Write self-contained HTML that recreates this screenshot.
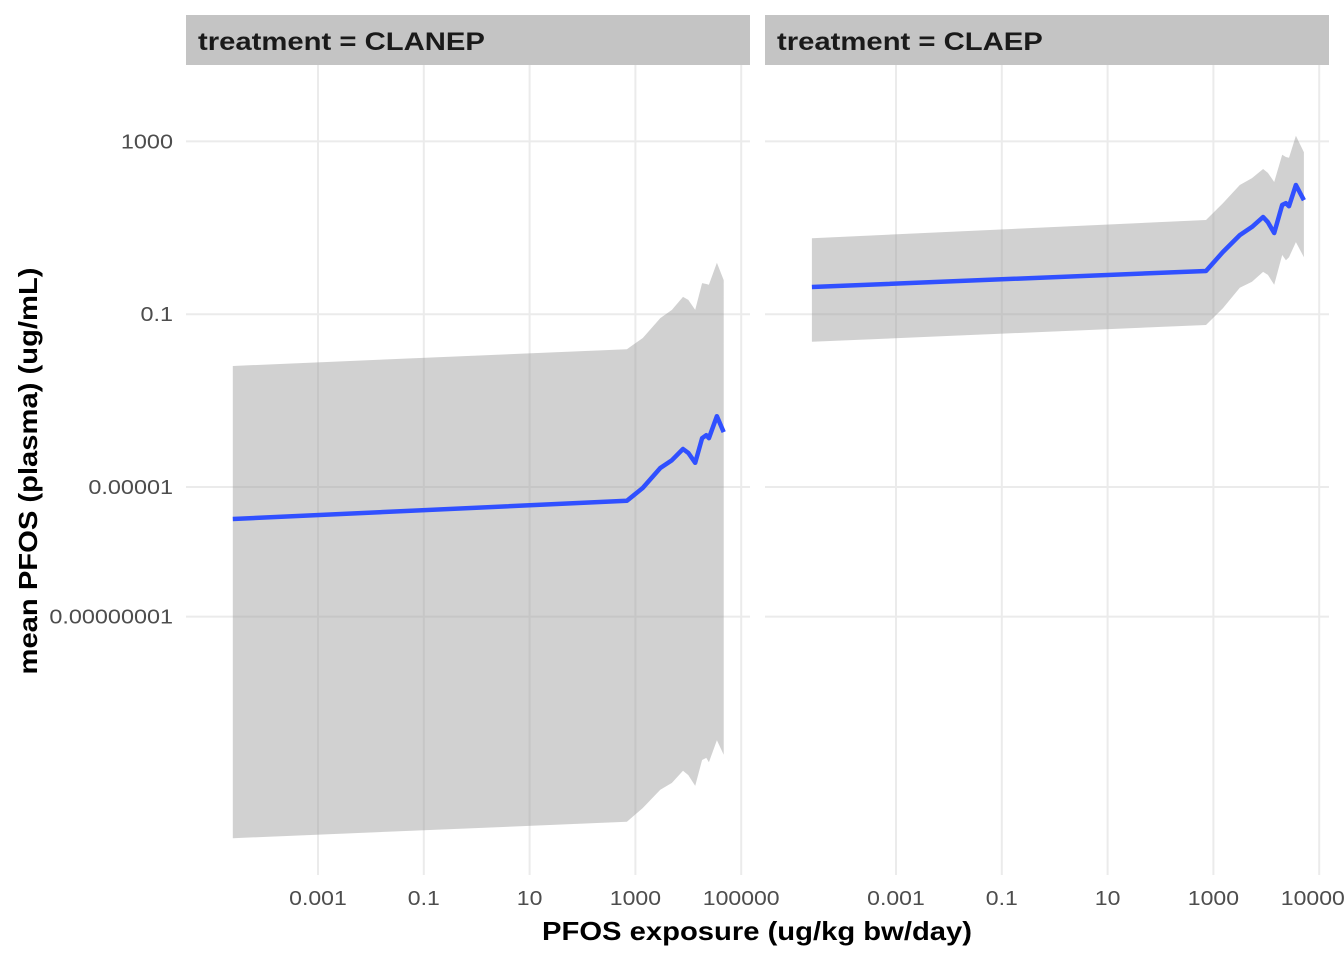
<!DOCTYPE html>
<html><head><meta charset="utf-8"><style>
body{margin:0;background:#fff;overflow:hidden;}
svg text{font-family:"Liberation Sans",Arial,sans-serif;}
</style></head><body>
<svg id="chart" width="1344" height="960" xmlns="http://www.w3.org/2000/svg">
<g id="root"></g>
</svg>
<script>
// Data (log10 values)
const panelNames = ["CLANEP", "CLAEP"];
const xTickExp = [-3, -1, 1, 3, 5];
const xTickLabels = ["0.001", "0.1", "10", "1000", "100000"];
const yTickExp = [3, -1, -5, -8];
const yTickLabels = ["1000", "0.1", "0.00001", "0.00000001"];
const leftLogX = [-4.61, 2.84, 3.14, 3.47, 3.69, 3.90, 4.00, 4.13, 4.26, 4.34, 4.39, 4.54, 4.67];
const leftLogY = [-5.74, -5.32, -5.02, -4.56, -4.38, -4.12, -4.21, -4.44, -3.87, -3.80, -3.87, -3.36, -3.73];
const leftUpper = [-2.20, -1.81, -1.55, -1.09, -0.90, -0.60, -0.67, -0.90, -0.28, -0.30, -0.32, 0.19, -0.21];
const leftLower = [-13.13, -12.75, -12.43, -12.01, -11.85, -11.57, -11.67, -11.92, -11.32, -11.27, -11.37, -10.86, -11.20];
const rightLogX = [-4.59, 2.86, 3.18, 3.50, 3.73, 3.94, 4.03, 4.15, 4.30, 4.37, 4.43, 4.56, 4.71];
const rightLogY = [-0.37, 0.00, 0.44, 0.83, 1.02, 1.25, 1.13, 0.88, 1.53, 1.57, 1.50, 1.99, 1.64];
const rightUpper = [0.76, 1.18, 1.57, 1.99, 2.15, 2.36, 2.27, 2.06, 2.69, 2.64, 2.62, 3.13, 2.75];
const rightLower = [-1.64, -1.25, -0.86, -0.39, -0.25, -0.02, -0.09, -0.32, 0.37, 0.25, 0.32, 0.67, 0.32];

const NS = "http://www.w3.org/2000/svg";
const root = document.getElementById("root");
function mk(tag, attrs, parent) {
  const e = document.createElementNS(NS, tag);
  for (const k in attrs) e.setAttribute(k, attrs[k]);
  (parent || root).appendChild(e);
  return e;
}
function widen(t, f) {
  const w = t.getComputedTextLength();
  t.setAttribute("textLength", (w * f).toFixed(1));
  t.setAttribute("lengthAdjust", "spacingAndGlyphs");
}
const panels = [
  {x0: 186, x1: 750, off: 0, lx: leftLogX, ly: leftLogY, up: leftUpper, lo: leftLower},
  {x0: 765, x1: 1329, off: 578, lx: rightLogX, ly: rightLogY, up: rightUpper, lo: rightLower}
];
const yTop = 65, yBot = 875;
function yScale(v) { return 487 - (v + 5) * 43.2; }

panels.forEach((p, i) => {
  const xScale = v => 318 + p.off + (v + 3) * 52.9;
  const g = mk("g", {});
  
  
  yTickExp.forEach(v => {
    const l = mk("line", {x1: p.x0, x2: p.x1, y1: yScale(v), y2: yScale(v), stroke: "#ebebeb", "stroke-width": 2}, g);
    
    
  });
  xTickExp.forEach(v => {
    const l = mk("line", {x1: xScale(v), x2: xScale(v), y1: yTop, y2: yBot, stroke: "#ebebeb", "stroke-width": 2}, g);
    
    
  });
  let d = "";
  p.lx.forEach((v, k) => { d += (k ? "L" : "M") + xScale(v).toFixed(1) + "," + yScale(p.up[k]).toFixed(1); });
  for (let k = p.lx.length - 1; k >= 0; k--) d += "L" + xScale(p.lx[k]).toFixed(1) + "," + yScale(p.lo[k]).toFixed(1);
  d += "Z";
  const rib = mk("path", {d: d, fill: "#999999", "fill-opacity": 0.45, "stroke-linejoin": "round"}, g);
  
  
  let ld = "";
  p.lx.forEach((v, k) => { ld += (k ? "L" : "M") + xScale(v).toFixed(1) + "," + yScale(p.ly[k]).toFixed(1); });
  const ln = mk("path", {d: ld, fill: "none", stroke: "#3050ff", "stroke-width": 4.5, "stroke-linejoin": "round"}, g);
  
  
  const s = mk("rect", {x: p.x0, y: 15, width: p.x1 - p.x0, height: 50, fill: "#c4c4c4"}, g);
  
  
  const st = mk("text", {x: p.x0 + 12, y: 50, "font-size": 25, "font-weight": "bold", fill: "#1a1a1a"}, g);
  st.textContent = "treatment = " + panelNames[i];
  
  
  widen(st, 1.17);
  xTickExp.forEach((v, k) => {
    const t = mk("text", {x: xScale(v), y: 905, "font-size": 20, fill: "#4d4d4d", "text-anchor": "middle"}, g);
    t.textContent = xTickLabels[k];
    
    
    widen(t, 1.15);
  });
});
yTickExp.forEach((v, k) => {
  const t = mk("text", {x: 173, y: yScale(v) + 7, "font-size": 20, fill: "#4d4d4d", "text-anchor": "end"});
  t.textContent = yTickLabels[k];
  
  
  widen(t, 1.17);
});
const xt = mk("text", {x: 757, y: 940, "font-size": 26, "font-weight": "bold", fill: "#000", "text-anchor": "middle"});
xt.textContent = "PFOS exposure (ug/kg bw/day)";


xt.setAttribute("textLength", "430");
xt.setAttribute("lengthAdjust", "spacingAndGlyphs");
const yt = mk("text", {x: 0, y: 0, "font-size": 26, "font-weight": "bold", fill: "#000", "text-anchor": "middle", transform: "translate(37,471) rotate(-90)"});
yt.textContent = "mean PFOS (plasma) (ug/mL)";


yt.setAttribute("textLength", "407");
yt.setAttribute("lengthAdjust", "spacingAndGlyphs");
</script>
</body></html>
